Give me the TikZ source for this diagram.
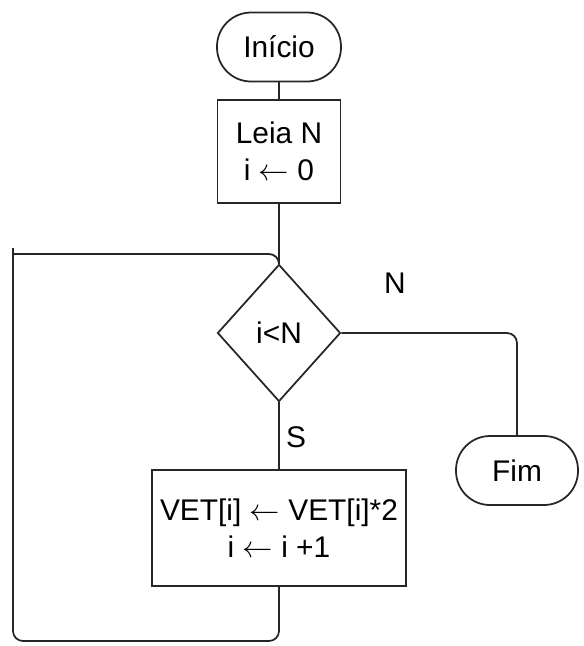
\documentclass[tikz,border=0pt]{standalone}
\usepackage{fontspec}
\setmainfont{Liberation Sans}
\usepackage{tikz}
\usetikzlibrary{shapes.geometric}
\definecolor{flowline}{gray}{0.15}
\tikzset{
	terminal/.style={draw=flowline, line width=1pt, rounded corners=6.8mm, minimum width=2.48cm, minimum height=1.38cm, inner sep=0pt},
	procbox/.style={draw=flowline, line width=1pt, align=center, inner sep=0pt},
	decision/.style={draw=flowline, line width=1pt, diamond, inner sep=0pt, minimum width=2.46cm, minimum height=2.74cm},
	flow/.style={draw=flowline, line width=1pt, rounded corners=2mm}
}

\begin{document}
\begin{tikzpicture}[font=\fontsize{17}{21}\selectfont]
		\useasboundingbox (0,0) rectangle (11.68,-12.92);

		\node[terminal] (inicio) at (5.58,-0.94) {Início};
		\node[procbox, minimum width=2.46cm, minimum height=2.06cm] (leia) at (5.58,-3.03) {Leia N\\ i $\leftarrow$ 0};
		\node[decision] (cond) at (5.58,-6.66) {i<N};
		\node[procbox, minimum width=5.08cm, minimum height=2.32cm] (vet) at (5.58,-10.56) {VET[i] $\leftarrow$ VET[i]*2\\ i $\leftarrow$ i +1};
		\node[terminal, minimum width=2.44cm] (fim) at (10.34,-9.41) {Fim};

		\node (lblN) at (7.9,-5.66) {N};
		\node (lblS) at (5.92,-8.74) {S};

		\coordinate (loopbot) at (0.26,-12.82);
		\coordinate (looptop) at (0.26,-4.96);
		\coordinate (loopin) at (0.26,-5.08);

		\draw[flow] (inicio) -- (leia);
		\draw[flow] (leia) -- (cond);
		\draw[flow] (cond) -- (vet);
		\draw[flow] (cond.east) -| (fim.north);
		\draw[flow] (vet.south) |- (loopbot) -- (looptop);
		\draw[flow] (loopin) -| (cond.north);
	\end{tikzpicture}
\end{document}
